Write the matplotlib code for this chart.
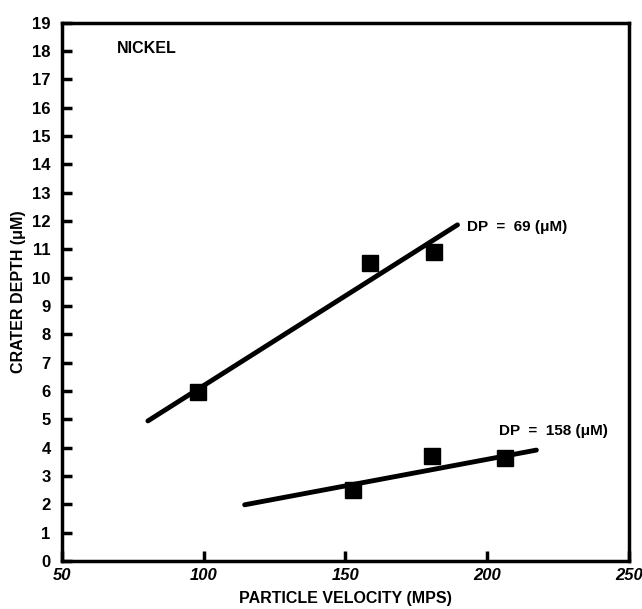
import numpy as np
import matplotlib
matplotlib.use('Agg')
import matplotlib.pyplot as plt

plt.rcParams['font.family'] = ['Liberation Sans', 'DejaVu Sans']
plt.rcParams['font.weight'] = 'bold'

# DP = 69 uM
vel_69 = [98, 158.6, 181.1]
depth_69 = [5.96, 10.52, 10.9]
fit_vel_69 = [80.4, 189.5]
fit_depth_69 = [4.94, 11.86]

# DP = 158 uM
vel_158 = [152.7, 180.6, 206.3]
depth_158 = [2.5, 3.7, 3.62]
fit_vel_158 = [114.5, 217.3]
fit_depth_158 = [1.98, 3.91]

fig = plt.figure(figsize=(6.42, 6.09), dpi=100)
ax = fig.add_axes([0.096, 0.079, 0.884, 0.884])

ax.plot(fit_vel_69, fit_depth_69, color='black', linewidth=3.5, solid_capstyle='round')
ax.plot(fit_vel_158, fit_depth_158, color='black', linewidth=3.5, solid_capstyle='round')
ax.plot(vel_69, depth_69, linestyle='none', marker='s', markersize=11, color='black')
ax.plot(vel_158, depth_158, linestyle='none', marker='s', markersize=11, color='black')

ax.set_xlim(50, 250)
ax.set_ylim(0, 19)
ax.set_xticks([50, 100, 150, 200, 250])
ax.set_yticks(np.arange(0, 20, 1))
for lab in ax.get_xticklabels():
    lab.set_fontstyle('italic')
    lab.set_fontweight('bold')
for lab in ax.get_yticklabels():
    lab.set_fontweight('bold')

ax.tick_params('both', direction='in', length=7, width=2.5, labelsize=12)
ax.tick_params('y', pad=8)
ax.tick_params('x', pad=5)
for s in ax.spines.values():
    s.set_linewidth(2.5)

ax.set_xlabel('PARTICLE VELOCITY (MPS)', fontsize=11.5, fontweight='bold', labelpad=6)
ax.set_ylabel('CRATER DEPTH (\u03bcM)', fontsize=11.5, fontweight='bold', labelpad=4)

ax.text(80, 18.1, 'NICKEL', fontsize=11.5, fontweight='bold', ha='center', va='center')
ax.text(193, 11.8, 'DP  =  69 (\u03bcM)', fontsize=11, fontweight='bold', ha='left', va='center')
ax.text(204, 4.6, 'DP  =  158 (\u03bcM)', fontsize=11, fontweight='bold', ha='left', va='center')

plt.savefig('out.png', dpi=100)
